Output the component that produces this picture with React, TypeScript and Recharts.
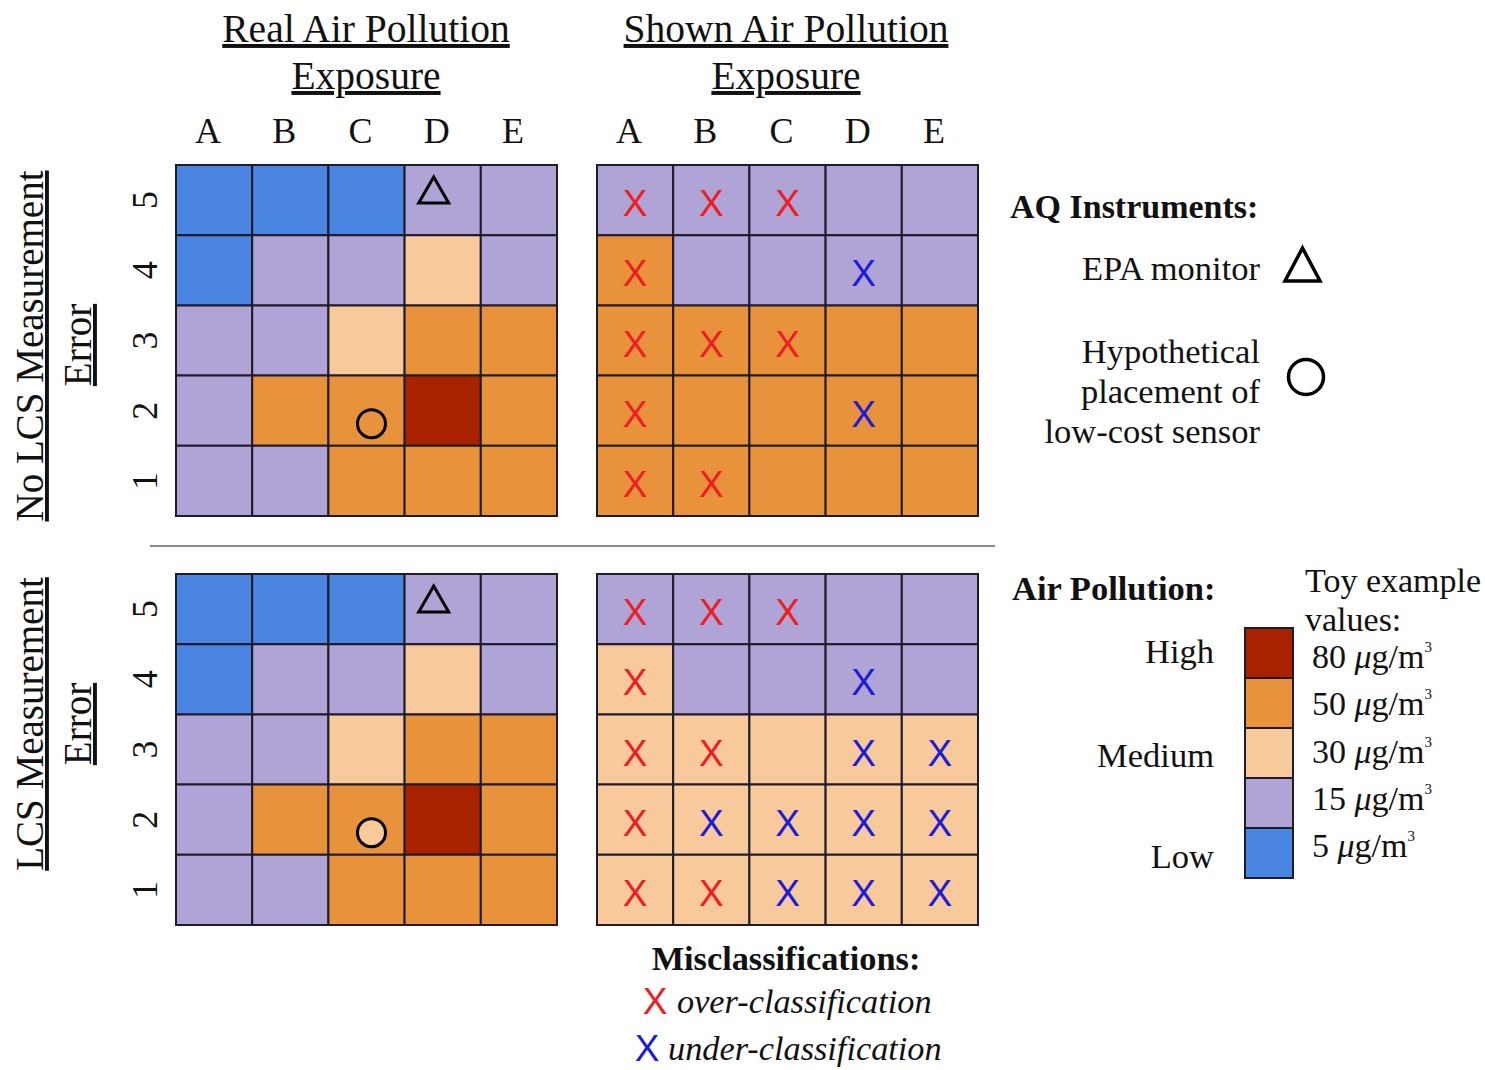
import React from 'react';
import { ScatterChart, Scatter, XAxis, YAxis, ReferenceArea, BarChart, Bar } from 'recharts';

// ---------- data ----------
const COLUMNS = ['A', 'B', 'C', 'D', 'E'];
const ROW_NUMBERS = [5, 4, 3, 2, 1]; // top to bottom
const LEVEL_VALUES = [80, 50, 30, 15, 5]; // µg/m3, high to low
const LEVEL_COLORS: Record<number, string> = {
  80: '#A82200',
  50: '#E8923B',
  30: '#F8C99B',
  15: '#B0A3D6',
  5: '#4A85E2',
};
const LEVEL_NAMES = ['High', 'Medium', 'Low'];

const REAL_EXPOSURE = [
  [5, 5, 5, 15, 15],
  [5, 15, 15, 30, 15],
  [15, 15, 30, 50, 50],
  [15, 50, 50, 80, 50],
  [15, 15, 50, 50, 50],
];
const SHOWN_NO_LCS_ERROR = [
  [15, 15, 15, 15, 15],
  [50, 15, 15, 15, 15],
  [50, 50, 50, 50, 50],
  [50, 50, 50, 50, 50],
  [50, 50, 50, 50, 50],
];
const SHOWN_LCS_ERROR = [
  [15, 15, 15, 15, 15],
  [30, 15, 15, 15, 15],
  [30, 30, 30, 30, 30],
  [30, 30, 30, 30, 30],
  [30, 30, 30, 30, 30],
];
const EPA_MONITOR = { col: 'D', row: 5 };
const LOW_COST_SENSOR = { col: 'C', row: 2 };

// ---------- style ----------
const SERIF = "'Liberation Serif', 'Times New Roman', serif";
const SANS = "'Liberation Sans', Arial, sans-serif";
const GRID_LINE = '#1E1B2A';
const OVER_COLOR = '#EE1D24';
const UNDER_COLOR = '#1C1CD8';
const GRID_W = 381;
const GRID_H = 351;
const AXIS_TOP = 90;
const AXIS_LEFT = 60;

type CellPt = { x: number; y: number; value: number };
type MarkPt = { x: number; y: number; kind: 'over' | 'under' };

function toCells(grid: number[][]): CellPt[] {
  const out: CellPt[] = [];
  grid.forEach((rowVals, r) =>
    rowVals.forEach((v, c) => out.push({ x: c + 1, y: ROW_NUMBERS[r], value: v }))
  );
  return out;
}

function misclassifications(real: number[][], shown: number[][]): MarkPt[] {
  const out: MarkPt[] = [];
  shown.forEach((rowVals, r) =>
    rowVals.forEach((v, c) => {
      const rv = real[r][c];
      if (v > rv) out.push({ x: c + 1, y: ROW_NUMBERS[r], kind: 'over' });
      else if (v < rv) out.push({ x: c + 1, y: ROW_NUMBERS[r], kind: 'under' });
    })
  );
  return out;
}

const colIndex = (c: string) => COLUMNS.indexOf(c) + 1;
const valueAt = (grid: number[][], col: string, row: number) =>
  grid[ROW_NUMBERS.indexOf(row)][colIndex(col) - 1];

const ColTick = (p: any) => (
  <text x={p.x - 6} y={p.y - 14} textAnchor="middle" fontFamily={SERIF} fontSize={36} fill="#111">
    {COLUMNS[p.payload.value - 1]}
  </text>
);

const RowTick = (p: any) => {
  const bx = p.x - 11;
  return (
    <text
      x={bx}
      y={p.y}
      transform={`rotate(-90, ${bx}, ${p.y})`}
      textAnchor="middle"
      fontFamily={SERIF}
      fontSize={36}
      fill="#111"
    >
      {p.payload.value}
    </text>
  );
};

const XMarkShape = (p: any) => (
  <text
    x={p.cx}
    y={p.cy + 16}
    textAnchor="middle"
    fontFamily={SANS}
    fontSize={37}
    fill={p.payload.kind === 'over' ? OVER_COLOR : UNDER_COLOR}
  >
    X
  </text>
);

const TriangleShape = (p: any) => {
  const cx = p.cx - 9;
  const cy = p.cy - 10;
  return (
    <path
      d={`M${cx},${cy - 13} L${cx + 15},${cy + 13} L${cx - 15},${cy + 13} Z`}
      fill="none"
      stroke="#000"
      strokeWidth={3}
      strokeLinejoin="miter"
    />
  );
};

const CircleShape = (p: any) => (
  <circle cx={p.cx + 5} cy={p.cy + 13} r={14} fill={p.payload.fill} stroke="#000" strokeWidth={3} />
);

function HeatGrid(props: {
  grid: number[][];
  real?: number[][];
  shownForSensor?: number[][];
  left: number;
  top: number;
  showRowLabels: boolean;
  showColLabels: boolean;
}) {
  const { grid, real, shownForSensor, left, top, showRowLabels, showColLabels } = props;
  const cells = toCells(grid);
  const marks = real ? misclassifications(real, grid) : [];
  const monitor = shownForSensor ? [{ x: colIndex(EPA_MONITOR.col), y: EPA_MONITOR.row }] : [];
  const sensor = shownForSensor
    ? [
        {
          x: colIndex(LOW_COST_SENSOR.col),
          y: LOW_COST_SENSOR.row,
          fill: LEVEL_COLORS[valueAt(shownForSensor, LOW_COST_SENSOR.col, LOW_COST_SENSOR.row)],
        },
      ]
    : [];
  return (
    <div style={{ position: 'absolute', left: left - AXIS_LEFT, top: top - AXIS_TOP }}>
      <ScatterChart
        width={AXIS_LEFT + GRID_W + 4}
        height={AXIS_TOP + GRID_H + 4}
        margin={{
          top: showColLabels ? 0 : AXIS_TOP,
          right: 4,
          bottom: 4,
          left: showRowLabels ? 0 : AXIS_LEFT,
        }}
      >
        <XAxis
          type="number"
          dataKey="x"
          orientation="top"
          domain={[0.5, 5.5]}
          ticks={[1, 2, 3, 4, 5]}
          height={AXIS_TOP}
          hide={!showColLabels}
          axisLine={false}
          tickLine={false}
          tick={(p: any) => <ColTick {...p} />}
          interval={0}
          allowDataOverflow
        />
        <YAxis
          type="number"
          dataKey="y"
          domain={[0.5, 5.5]}
          ticks={[1, 2, 3, 4, 5]}
          width={AXIS_LEFT}
          hide={!showRowLabels}
          axisLine={false}
          tickLine={false}
          tick={(p: any) => <RowTick {...p} />}
          interval={0}
          allowDataOverflow
        />
        {cells.map((c) => (
          <ReferenceArea
            key={`${c.x}-${c.y}`}
            x1={c.x - 0.5}
            x2={c.x + 0.5}
            y1={c.y - 0.5}
            y2={c.y + 0.5}
            fill={LEVEL_COLORS[c.value]}
            fillOpacity={1}
            stroke={GRID_LINE}
            strokeWidth={2}
            ifOverflow="visible"
          />
        ))}
        <Scatter data={marks} shape={(p: any) => <XMarkShape {...p} />} isAnimationActive={false} />
        <Scatter data={monitor} shape={(p: any) => <TriangleShape {...p} />} isAnimationActive={false} />
        <Scatter data={sensor} shape={(p: any) => <CircleShape {...p} />} isAnimationActive={false} />
      </ScatterChart>
    </div>
  );
}

const COLORBAR_LEVELS = [...LEVEL_VALUES].reverse(); // bottom to top
const COLORBAR_DATA = [
  COLORBAR_LEVELS.reduce((acc: any, v) => ({ ...acc, [`l${v}`]: 1 }), { name: 'levels' }),
];

function ColorBar() {
  return (
    <div style={{ position: 'absolute', left: 1243, top: 626 }}>
      <BarChart
        width={52}
        height={254}
        data={COLORBAR_DATA}
        margin={{ top: 2, right: 2, bottom: 2, left: 2 }}
        barCategoryGap={0}
      >
        <XAxis dataKey="name" hide />
        <YAxis type="number" domain={[0, 5]} hide />
        {COLORBAR_LEVELS.map((v) => (
          <Bar
            key={v}
            dataKey={`l${v}`}
            stackId="s"
            fill={LEVEL_COLORS[v]}
            stroke={GRID_LINE}
            strokeWidth={2}
            isAnimationActive={false}
          />
        ))}
      </BarChart>
    </div>
  );
}

function Unit({ v }: { v: number }) {
  return (
    <>
      {`${v} `}
      <tspan fontStyle="italic">μ</tspan>
      {'g/m'}
      <tspan dy={-16} fontSize={15}>
        3
      </tspan>
    </>
  );
}

function Overlay() {
  const t = { fontFamily: SERIF, fill: '#111' } as const;
  const underline = { textDecoration: 'underline' } as const;
  const FS = 34.5;
  return (
    <svg width={1485} height={1070} style={{ position: 'absolute', left: 0, top: 0 }}>
      {/* column titles */}
      <text x={366} y={42} textAnchor="middle" fontSize={39.5} style={underline} {...t}>Real Air Pollution</text>
      <text x={366} y={89} textAnchor="middle" fontSize={39.5} style={underline} {...t}>Exposure</text>
      <text x={786} y={42} textAnchor="middle" fontSize={39.5} style={underline} {...t}>Shown Air Pollution</text>
      <text x={786} y={89} textAnchor="middle" fontSize={39.5} style={underline} {...t}>Exposure</text>
      {/* row titles */}
      <text x={43} y={346} transform="rotate(-90, 43, 346)" textAnchor="middle" fontSize={39} style={underline} {...t}>No LCS Measurement</text>
      <text x={91} y={345} transform="rotate(-90, 91, 345)" textAnchor="middle" fontSize={39} style={underline} {...t}>Error</text>
      <text x={43} y={724} transform="rotate(-90, 43, 724)" textAnchor="middle" fontSize={39} style={underline} {...t}>LCS Measurement</text>
      <text x={91} y={724} transform="rotate(-90, 91, 724)" textAnchor="middle" fontSize={39} style={underline} {...t}>Error</text>
      {/* separator */}
      <line x1={150} y1={546} x2={995} y2={546} stroke="#8A8A8A" strokeWidth={2} />
      {/* AQ instruments legend */}
      <text x={1010} y={218} fontSize={34} fontWeight="bold" {...t}>AQ Instruments:</text>
      <text x={1260} y={280} textAnchor="end" fontSize={FS} {...t}>EPA monitor</text>
      <path d="M1302.5,248 L1320,281 L1285,281 Z" fill="none" stroke="#000" strokeWidth={3.5} />
      <text x={1260} y={363} textAnchor="end" fontSize={FS} {...t}>Hypothetical</text>
      <text x={1260} y={403} textAnchor="end" fontSize={FS} {...t}>placement of</text>
      <text x={1260} y={443} textAnchor="end" fontSize={FS} {...t}>low-cost sensor</text>
      <circle cx={1306} cy={377} r={17.5} fill="none" stroke="#000" strokeWidth={3.5} />
      {/* air pollution legend */}
      <text x={1012} y={600} fontSize={FS} fontWeight="bold" {...t}>Air Pollution:</text>
      <text x={1305} y={592} fontSize={34} {...t}>Toy example</text>
      <text x={1305} y={631} fontSize={34} {...t}>values:</text>
      {LEVEL_NAMES.map((n, i) => (
        <text key={n} x={1214} y={[663, 767, 868][i]} textAnchor="end" fontSize={FS} {...t}>{n}</text>
      ))}
      {LEVEL_VALUES.map((v, i) => (
        <text key={v} x={1312} y={668 + i * 47.3} fontSize={34} {...t}>
          <Unit v={v} />
        </text>
      ))}
      {/* misclassifications legend */}
      <text x={786} y={970} textAnchor="middle" fontSize={34.3} fontWeight="bold" {...t}>Misclassifications:</text>
      <text x={655} y={1014} textAnchor="middle" fontFamily={SANS} fontSize={37} fill={OVER_COLOR}>X</text>
      <text x={677} y={1013} fontSize={34.3} fontStyle="italic" {...t}>over-classification</text>
      <text x={647} y={1061} textAnchor="middle" fontFamily={SANS} fontSize={37} fill={UNDER_COLOR}>X</text>
      <text x={668} y={1060} fontSize={34.3} fontStyle="italic" {...t}>under-classification</text>
    </svg>
  );
}

export default function App() {
  return (
    <div
      style={{
        position: 'absolute',
        left: 0,
        top: 0,
        width: 1485,
        height: 1070,
        background: '#fff',
        overflow: 'hidden',
      }}
    >
      <Overlay />
      <HeatGrid grid={REAL_EXPOSURE} shownForSensor={SHOWN_NO_LCS_ERROR} left={176} top={165} showRowLabels showColLabels />
      <HeatGrid grid={SHOWN_NO_LCS_ERROR} real={REAL_EXPOSURE} left={597} top={165} showRowLabels={false} showColLabels />
      <HeatGrid grid={REAL_EXPOSURE} shownForSensor={SHOWN_LCS_ERROR} left={176} top={574} showRowLabels showColLabels={false} />
      <HeatGrid grid={SHOWN_LCS_ERROR} real={REAL_EXPOSURE} left={597} top={574} showRowLabels={false} showColLabels={false} />
      <ColorBar />
    </div>
  );
}
